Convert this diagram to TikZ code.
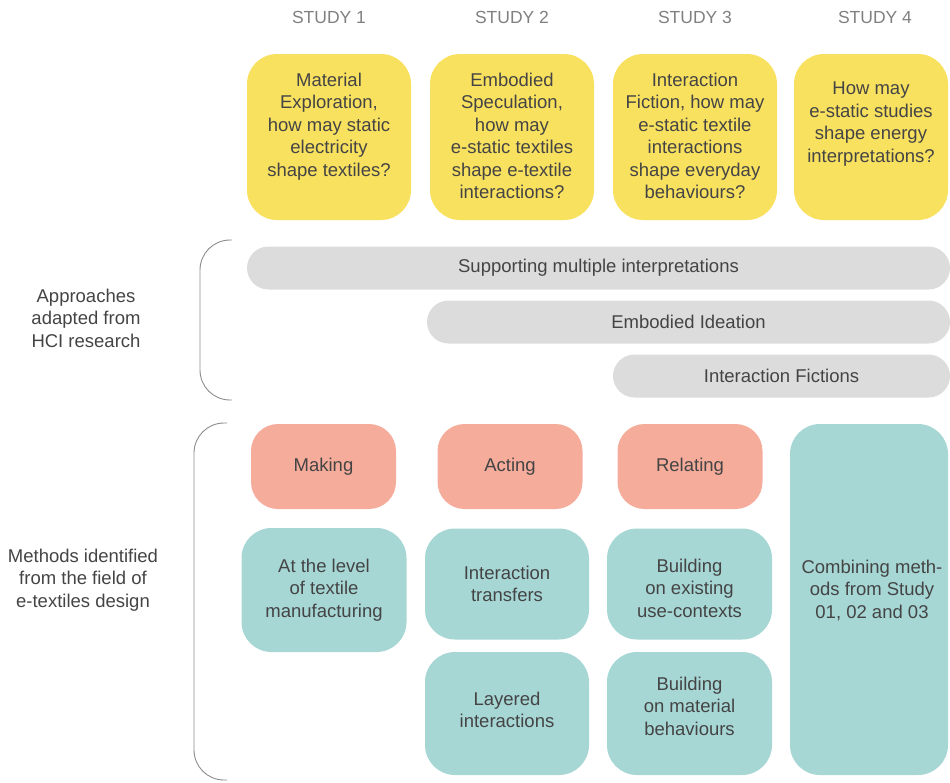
\documentclass[tikz,border=0pt]{standalone}
\usepackage{fontspec}
\setmainfont{Liberation Sans}
\usetikzlibrary{positioning}

\definecolor{qyellow}{HTML}{F9E160}
\definecolor{bargray}{HTML}{DCDCDC}
\definecolor{actpink}{HTML}{F5AC9B}
\definecolor{methteal}{HTML}{A6D7D5}
\definecolor{txtgray}{HTML}{444444}
\definecolor{lblgray}{HTML}{808080}
\definecolor{bracegray}{HTML}{8C8C8C}

\tikzset{
  boxtext/.style={text=txtgray,font=\fontsize{18.5}{22.5}\selectfont,align=center,inner sep=0pt},
  studylabel/.style={text=lblgray,font=\fontsize{17.5}{21}\selectfont,inner sep=0pt},
  studybox/.style={fill=qyellow,rounded corners=30pt,minimum width=164pt,minimum height=166pt,inner sep=0pt},
  approachbar/.style={boxtext,fill=bargray,rounded corners=21.5pt,minimum height=43pt},
  actbox/.style={boxtext,fill=actpink,rounded corners=27pt,minimum width=145pt,minimum height=85pt},
  methbox/.style={boxtext,fill=methteal,rounded corners=30pt,minimum width=165pt},
  bracket/.style={draw=bracegray,line width=0.9pt,rounded corners=30pt},
}

\begin{document}
\begin{tikzpicture}[x=1pt,y=-1pt]
  \useasboundingbox (0,0) rectangle (950,782);

  % studies
  \node[studylabel] (st1) at (329,17) {STUDY 1};
  \node[studylabel] (st2) at (512,17) {STUDY 2};
  \node[studylabel] (st3) at (695,17) {STUDY 3};
  \node[studylabel] (st4) at (875,17) {STUDY 4};

  \node[studybox] (q1) at (329,137) {};
  \node[studybox] (q2) at (512,137) {};
  \node[studybox] (q3) at (695,137) {};
  \node[studybox,minimum width=154pt] (q4) at (871,137) {};
  \node[boxtext,below=19pt of q1.north] (q1t) {Material\\Exploration,\\how may static\\electricity\\shape textiles?};
  \node[boxtext,below=19pt of q2.north] (q2t) {Embodied\\Speculation,\\how may\\e-static textiles\\shape e-textile\\interactions?};
  \node[boxtext,below=19pt of q3.north] (q3t) {Interaction\\Fiction, how may\\e-static textile\\interactions\\shape everyday\\behaviours?};
  \node[boxtext,below=28pt of q4.north] (q4t) {How may\\e-static studies\\shape energy\\interpretations?};

  % approaches
  \node[approachbar,minimum width=703pt] (ap1) at (598.5,268) {Supporting multiple interpretations};
  \node[approachbar,minimum width=523pt] (ap2) at (688.5,322) {Embodied Ideation};
  \node[approachbar,minimum width=337pt] (ap3) at (781.5,376) {Interaction Fictions};

  \draw[bracket] (232,240) -| (200,320) |- (232,400);
  \node[boxtext] (apl) at (86,318) {Approaches\\adapted from\\HCI research};

  % methods
  \node[actbox] (mk) at (323.5,466.5) {Making};
  \node[actbox] (ac) at (510,466.5) {Acting};
  \node[actbox] (rl) at (690,466.5) {Relating};

  \node[methbox,minimum height=124pt] (m1) at (324,590) {At the level\\of textile\\manufacturing};
  \node[methbox,minimum height=111pt,minimum width=164pt] (m2) at (507,584) {Interaction\\transfers};
  \node[methbox,minimum height=111pt] (m3) at (689.5,584) {};
  \node[boxtext] (m3t) at (689.5,588) {Building\\on existing\\use-contexts};
  \node[methbox,minimum height=123pt,minimum width=164pt] (m4) at (507,713.5) {};
  \node[boxtext] (m4t) at (507,710) {Layered\\interactions};
  \node[methbox,minimum height=123pt] (m5) at (689.5,713.5) {};
  \node[boxtext] (m5t) at (689.5,706) {Building\\on material\\behaviours};
  \node[methbox,minimum height=351pt,minimum width=158pt] (m6) at (869,599.5) {};
  \node[boxtext] (m6t) at (872,590) {Combining meth-\\ods from Study\\01, 02 and 03};

  \draw[bracket] (227,423) -| (194,600) |- (227,780);
  \node[boxtext] (mtl) at (83,580) {Methods identified\\from the field of\\e-textiles design};
\end{tikzpicture}
\end{document}
